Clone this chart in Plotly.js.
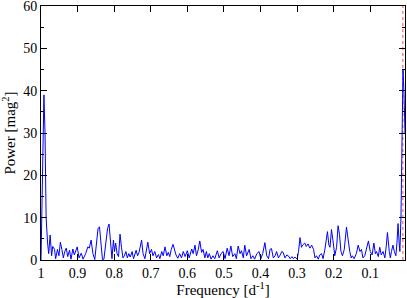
<!DOCTYPE html>
<html>
<head>
<meta charset="utf-8">
<script src="https://cdn.plot.ly/plotly-3.0.1.min.js"></script>
<style>html,body{margin:0;padding:0;background:#fff;}#chart{width:407px;height:298px;}</style>
</head>
<body>
<div id="chart"></div>
<script>
const frequency = [1.000,0.996,0.992,0.989,0.986,0.982,0.979,0.975,0.971,0.968,0.963,0.960,0.955,0.951,0.947,0.943,0.939,0.935,0.931,0.927,0.922,0.918,0.913,0.909,0.905,0.901,0.896,0.890,0.885,0.878,0.872,0.868,0.863,0.858,0.853,0.848,0.844,0.840,0.836,0.832,0.828,0.822,0.818,0.814,0.810,0.806,0.802,0.799,0.796,0.792,0.788,0.784,0.780,0.776,0.772,0.768,0.764,0.760,0.756,0.751,0.747,0.744,0.740,0.736,0.732,0.725,0.721,0.716,0.712,0.708,0.703,0.698,0.694,0.689,0.684,0.679,0.675,0.670,0.666,0.661,0.656,0.652,0.648,0.644,0.639,0.635,0.631,0.626,0.621,0.616,0.611,0.606,0.600,0.595,0.588,0.584,0.579,0.575,0.570,0.566,0.561,0.557,0.552,0.548,0.544,0.540,0.535,0.530,0.525,0.518,0.513,0.508,0.502,0.497,0.491,0.486,0.481,0.476,0.470,0.466,0.461,0.456,0.452,0.447,0.443,0.438,0.431,0.426,0.421,0.416,0.410,0.404,0.399,0.394,0.388,0.383,0.378,0.374,0.370,0.365,0.360,0.356,0.351,0.346,0.342,0.338,0.333,0.328,0.324,0.319,0.314,0.310,0.306,0.300,0.296,0.292,0.288,0.285,0.279,0.275,0.270,0.265,0.260,0.255,0.251,0.247,0.242,0.238,0.233,0.229,0.224,0.217,0.213,0.210,0.206,0.201,0.197,0.192,0.188,0.184,0.180,0.176,0.171,0.165,0.160,0.156,0.152,0.149,0.144,0.138,0.133,0.128,0.124,0.120,0.115,0.110,0.105,0.100,0.095,0.090,0.086,0.083,0.078,0.074,0.070,0.065,0.060,0.056,0.053,0.048,0.045,0.042,0.038,0.034,0.030,0.027,0.024,0.021,0.019,0.016,0.013,0.0105,0.008,0.005];
const power = [0,20,39,30,10,4,1.5,5.9,1,3.2,2.5,0.3,2.5,1,4.2,2.5,0.5,2,2.8,0.8,2.3,0.2,2.6,1.2,2,3.1,0.5,1.6,0.2,1.5,3.1,2.8,4.7,1.5,0.1,5,7.5,7.8,3,0.1,0.2,4,7.5,8.5,4,0.3,4.7,2,4,1.5,0.8,6.1,3,0.5,1,2,0.5,1.5,0.7,2,0.3,1.5,2.3,1,1.8,4.7,1.5,0.3,2,4.2,1.5,2.5,1,2,0.5,1.3,0.3,2,1,3.1,1,1.8,0.8,2.5,3.7,2.5,1.2,0.4,1.5,0.5,2,0.8,2.2,0.5,2.6,1.5,3.5,1,2.5,4.5,1.8,2.5,0.5,2,0.5,1.5,0.2,1,0.3,2.2,0.5,1.5,2,0.3,2.8,1,3.3,0.8,1.5,0.3,3.3,1.5,2.2,0.5,3.5,1,2.5,0.3,1,0.2,1.5,2,0.3,1.5,4.1,1,0.3,2.5,2.7,0.5,1,2,0.5,1.2,2,1.8,0.5,1.2,1,0.3,0.8,0.3,0.7,0.2,2,5.3,3,3.5,4,3.2,3.8,2.8,3.5,2.5,0.5,1,0.2,1.2,1.5,0.3,2.5,6.7,3.5,3,7.2,4,1,3,8.1,6,2,1,2.5,7.8,4,2,0.5,1,0.3,1.5,3.5,2,2.5,0.5,1,3,4.5,2,1.2,4,1.5,2,0.8,3,1.2,2,0.5,3.5,6.5,2,0.5,2,3.5,2,1,4,8.6,4,2,10,35,45,40,30];
const markerFreq = [0.011, 0.011];
const markerPower = [0, 60];
const xTicks = [1,0.9,0.8,0.7,0.6,0.5,0.4,0.3,0.2,0.1];
const xTickText = ['1','0.9','0.8','0.7','0.6','0.5','0.4','0.3','0.2','0.1'];
const yTicks = [0,10,20,30,40,50,60];

const font = {family: 'Liberation Serif, Times New Roman, serif', color: '#000'};
const traces = [
  {x: markerFreq, y: markerPower, mode: 'lines', line: {color: '#ff8888', width: 1.5, dash: 'dot'}, hoverinfo: 'skip'},
  {x: frequency, y: power, mode: 'lines', line: {color: '#0000ff', width: 1}}
];
const layout = {
  width: 407, height: 298,
  margin: {l: 41, r: 2, t: 6, b: 38},
  paper_bgcolor: '#fff', plot_bgcolor: '#fff',
  showlegend: false,
  font: Object.assign({size: 14}, font),
  xaxis: {
    range: [1, 0.005], tickvals: xTicks, ticktext: xTickText,
    ticks: 'inside', ticklen: 6, tickcolor: '#000', tickwidth: 1,
    showgrid: false, zeroline: false, showline: true, linecolor: '#000', linewidth: 1, mirror: 'ticks',
    ticklabeloverflow: 'allow',
    tickfont: Object.assign({size: 14}, font),
    title: {text: 'Frequency [d<sup>-1</sup>]', font: Object.assign({size: 15}, font), standoff: 0}
  },
  yaxis: {
    range: [0, 60], tickvals: yTicks,
    ticks: 'inside', ticklen: 6, tickcolor: '#000', tickwidth: 1,
    minor: {dtick: 5, tick0: 0, ticks: 'inside', ticklen: 3, tickcolor: '#000', showgrid: false},
    showgrid: false, zeroline: false, showline: true, linecolor: '#000', linewidth: 1, mirror: 'ticks',
    ticklabeloverflow: 'allow',
    tickfont: Object.assign({size: 14}, font),
    title: {text: 'Power [mag<sup>2</sup>]', font: Object.assign({size: 15}, font), standoff: 6}
  }
};
Plotly.newPlot('chart', traces, layout, {displayModeBar: false, staticPlot: true});
</script>
</body>
</html>
